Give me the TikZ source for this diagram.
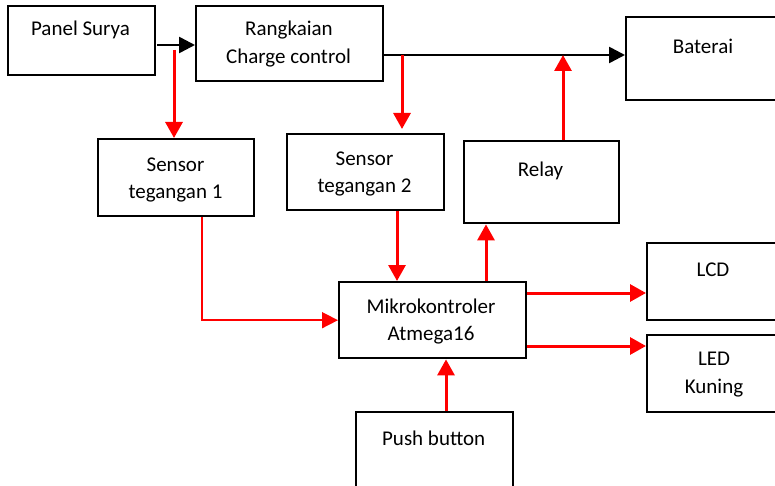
\documentclass[tikz,border=0pt]{standalone}
\usepackage{fontspec}
\setmainfont{Carlito}
\usetikzlibrary{arrows.meta}
\begin{document}
\begin{tikzpicture}[x=1pt,y=-1pt,
  box/.style={draw=black, line width=2.4pt, inner sep=0pt, anchor=north west},
  txt/.style={anchor=base, inner sep=0pt, font=\fontsize{21}{25}\selectfont},
  blk/.style={draw=black, line width=2.6pt, -{Triangle[length=16pt,width=16pt]}},
  redarr/.style={draw=red, line width=3pt, -{Triangle[length=16pt,width=17pt]}},
  redthin/.style={draw=red, line width=1.6pt, -{Triangle[length=16pt,width=16pt]}}]
\useasboundingbox (0,0) rectangle (775,486);
\clip (0,0) rectangle (775,486);
% boxes
\node[box, minimum width=147pt, minimum height=69pt] (ps) at (7,5) {};
\node[box, minimum width=187pt, minimum height=75pt] (rc) at (195,5) {};
\node[box, minimum width=175pt, minimum height=83pt] (bat) at (625,16) {};
\node[box, minimum width=156pt, minimum height=77pt] (s1) at (97,138) {};
\node[box, minimum width=157pt, minimum height=76pt] (s2) at (286,133) {};
\node[box, minimum width=155pt, minimum height=82pt] (rel) at (463,140) {};
\node[box, minimum width=187pt, minimum height=76pt] (mcu) at (338,281) {};
\node[box, minimum width=154pt, minimum height=77pt] (lcd) at (646,242) {};
\node[box, minimum width=154pt, minimum height=77pt] (led) at (646,334) {};
\node[box, minimum width=157pt, minimum height=90pt] (pb) at (355,411) {};
% texts
\node[txt] (tps) at (80.5,36) {Panel Surya};
\node[txt] (trc1) at (289,36) {Rangkaian};
\node[txt] (trc2) at (288.5,63.3) {Charge control};
\node[txt] (tbat) at (703,53.3) {Baterai};
\node[txt] (ts11) at (175.5,172) {Sensor};
\node[txt] (ts12) at (175.5,198.5) {tegangan 1};
\node[txt] (ts21) at (364.5,165.7) {Sensor};
\node[txt] (ts22) at (364.5,192.7) {tegangan 2};
\node[txt] (trel) at (540.5,176.7) {Relay};
\node[txt] (tmcu1) at (431,313.3) {Mikrokontroler};
\node[txt] (tmcu2) at (431,340.7) {Atmega16};
\node[txt] (tlcd) at (713,276) {LCD};
\node[txt] (tled1) at (714,365) {LED};
\node[txt] (tled2) at (714,393.3) {Kuning};
\node[txt] (tpb) at (433.7,445) {Push button};
% coordinates
\coordinate (psout) at (157,45);
\coordinate (tap1) at (174,50);
\coordinate (rcout) at (382,55);
\coordinate (tap2) at (402,55);
\coordinate (tap3) at (563,55);
% connectors
\draw[blk] (psout) -- (psout -| rc.west);
\draw[blk] (rcout) -- (rcout -| bat.west);
\draw[redarr] (tap1) -- (tap1 |- s1.north);
\draw[redarr] (tap2) -- ([yshift=4pt]tap2 |- s2.north);
\draw[redarr] (tap3 |- rel.north) -- (tap3);
\draw[redthin] (202,0 |- s1.south) |- (mcu.west);
\draw[redarr] (397,0 |- s2.south) -- (397,0 |- mcu.north);
\draw[redarr] (486,0 |- mcu.north) -- (486,0 |- rel.south);
\draw[redarr] (mcu.east |- 0,293) -- (lcd.west |- 0,293);
\draw[redarr] (mcu.east |- 0,346) -- (led.west |- 0,346);
\draw[redarr] (446,0 |- pb.north) -- (446,0 |- mcu.south);
\end{tikzpicture}
\end{document}
